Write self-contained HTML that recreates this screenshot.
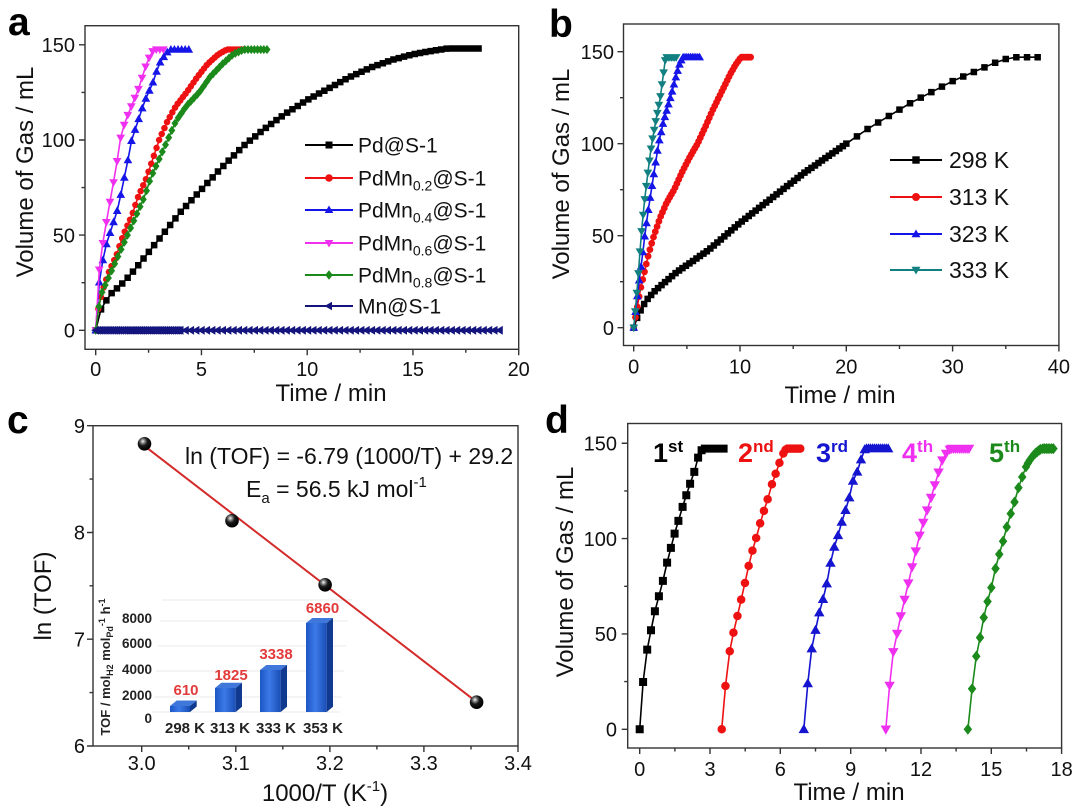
<!DOCTYPE html>
<html><head><meta charset="utf-8">
<style>
html,body{margin:0;padding:0;background:#fff;}
svg{display:block;font-family:"Liberation Sans",Arial,sans-serif;}
</style></head>
<body>
<svg id="s" width="1080" height="808" viewBox="0 0 1080 808" xmlns="http://www.w3.org/2000/svg">
<defs>
<radialGradient id="sph" cx="38%" cy="32%" r="65%">
<stop offset="0" stop-color="#ffffff"/><stop offset="0.18" stop-color="#9a9a9a"/><stop offset="0.5" stop-color="#1a1a1a"/><stop offset="1" stop-color="#000"/>
</radialGradient>
<linearGradient id="barf" x1="0" y1="0" x2="1" y2="0">
<stop offset="0" stop-color="#1d55c4"/><stop offset="0.45" stop-color="#3b7ae8"/><stop offset="1" stop-color="#1a4db5"/>
</linearGradient>
</defs>
<rect width="1080" height="808" fill="#fff"/>

<!-- Panel letters -->
<g font-weight="bold" font-size="39" fill="#000">
<text x="8" y="35">a</text>
<text x="549" y="37">b</text>
<text x="7" y="433">c</text>
<text x="545" y="433">d</text>
</g>

<g stroke="#333" stroke-width="1.4" fill="none">
<!-- frames -->
<rect x="85" y="25.7" width="433.7" height="323.6"/>
<rect x="623.5" y="24" width="435.4" height="321.5"/>
<rect x="93" y="425.7" width="425" height="320.3"/>
<rect x="627.7" y="423.5" width="433.9" height="324.5"/>
<!-- panel a ticks -->
<path d="M95.7,349.3v6M201.45,349.3v6M307.2,349.3v6M412.95,349.3v6M518.7,349.3v6M148.6,349.3v3.5M254.3,349.3v3.5M360.1,349.3v3.5M465.8,349.3v3.5
M85,330.3h-6M85,235.1h-6M85,140h-6M85,44.8h-6M85,282.7h-3.5M85,187.6h-3.5M85,92.4h-3.5"/>
<!-- panel b ticks -->
<path d="M633.7,345.5v6M740,345.5v6M846.3,345.5v6M952.6,345.5v6M1058.9,345.5v6M686.9,345.5v3.5M793.2,345.5v3.5M899.5,345.5v3.5M1005.8,345.5v3.5
M623.5,327.7h-6M623.5,235.7h-6M623.5,143.7h-6M623.5,51.7h-6M623.5,281.7h-3.5M623.5,189.7h-3.5M623.5,97.7h-3.5"/>
<!-- panel c ticks -->
<path d="M141.7,746v6M235.8,746v6M329.9,746v6M423.9,746v6M518,746v6M188.7,746v3.5M282.8,746v3.5M376.9,746v3.5M471,746v3.5
M93,746h-6M93,639.2h-6M93,532.5h-6M93,425.7h-6M93,692.6h-3.5M93,585.8h-3.5M93,479.1h-3.5"/>
<!-- panel d ticks -->
<path d="M639.7,748v6M710,748v6M780.3,748v6M850.7,748v6M921,748v6M991.3,748v6M1061.6,748v6M674.9,748v3.5M745.2,748v3.5M815.5,748v3.5M885.8,748v3.5M956.1,748v3.5M1026.5,748v3.5
M627.7,729.3h-6M627.7,633.95h-6M627.7,538.6h-6M627.7,443.25h-6M627.7,681.6h-3.5M627.7,586.3h-3.5M627.7,490.9h-3.5"/>
</g>

<g font-size="20" fill="#111">
<!-- a tick labels -->
<g text-anchor="middle">
<text x="95.7" y="376">0</text><text x="201.45" y="376">5</text><text x="307.2" y="376">10</text><text x="412.95" y="376">15</text><text x="518.7" y="376">20</text>
</g>
<g text-anchor="end">
<text x="75" y="337.5">0</text><text x="75" y="242.3">50</text><text x="75" y="147.2">100</text><text x="75" y="52">150</text>
</g>
<!-- b tick labels -->
<g text-anchor="middle">
<text x="633.7" y="373.5">0</text><text x="740" y="373.5">10</text><text x="846.3" y="373.5">20</text><text x="952.6" y="373.5">30</text><text x="1058.9" y="373.5">40</text>
</g>
<g text-anchor="end">
<text x="614" y="334.9">0</text><text x="614" y="242.9">50</text><text x="614" y="150.9">100</text><text x="614" y="58.9">150</text>
</g>
<!-- c tick labels -->
<g text-anchor="middle">
<text x="141.7" y="770">3.0</text><text x="235.8" y="770">3.1</text><text x="329.9" y="770">3.2</text><text x="423.9" y="770">3.3</text><text x="518" y="770">3.4</text>
</g>
<g text-anchor="end">
<text x="85" y="753.2">6</text><text x="85" y="646.4">7</text><text x="85" y="539.7">8</text><text x="85" y="432.9">9</text>
</g>
<!-- d tick labels -->
<g text-anchor="middle">
<text x="639.7" y="776">0</text><text x="710" y="776">3</text><text x="780.3" y="776">6</text><text x="850.7" y="776">9</text><text x="921" y="776">12</text><text x="991.3" y="776">15</text><text x="1061.6" y="776">18</text>
</g>
<g text-anchor="end">
<text x="617" y="736.5">0</text><text x="617" y="641.2">50</text><text x="617" y="545.8">100</text><text x="617" y="450.5">150</text>
</g>
</g>

<!-- axis titles -->
<g font-size="24" fill="#111" text-anchor="middle">
<text transform="translate(33,172) rotate(-90)">Volume of Gas / mL</text>
<text x="331" y="401">Time / min</text>
<text transform="translate(569,174) rotate(-90)">Volume of Gas / mL</text>
<text x="840" y="403">Time / min</text>
<text transform="translate(51,596) rotate(-90)">ln (TOF)</text>
<text x="325" y="801">1000/T (K<tspan font-size="15" dy="-10">-1</tspan><tspan dy="10">)</tspan></text>
<text transform="translate(573,572) rotate(-90)">Volume of Gas / mL</text>
<text x="849" y="800">Time / min</text>
</g>

<!-- Legend a -->
<g stroke-width="2" fill="none">
<path d="M305,145h48" stroke="#000"/>
<path d="M305,178h48" stroke="#ee1111"/>
<path d="M305,210h48" stroke="#1515e8"/>
<path d="M305,243h48" stroke="#f030f0"/>
<path d="M305,275h48" stroke="#1b8a1b"/>
<path d="M305,306h48" stroke="#14147e"/>
</g>
<rect x="325.5" y="141.5" width="7" height="7" fill="#000"/>
<circle cx="329" cy="178" r="3.8" fill="#ee1111"/>
<polygon points="329,205.5 333.3,213 324.7,213" fill="#1515e8"/>
<polygon points="329,247.5 333.3,240 324.7,240" fill="#f030f0"/>
<polygon points="329,270.3 332.8,275 329,279.7 325.2,275" fill="#1b8a1b"/>
<polygon points="324.5,306 332,301.8 332,310.2" fill="#14147e"/>
<g font-size="21" fill="#111">
<text x="358" y="152.5">Pd@S-1</text>
<text x="358" y="185.5">PdMn<tspan font-size="14" dy="5">0.2</tspan><tspan dy="-5">@S-1</tspan></text>
<text x="358" y="217.5">PdMn<tspan font-size="14" dy="5">0.4</tspan><tspan dy="-5">@S-1</tspan></text>
<text x="358" y="250.5">PdMn<tspan font-size="14" dy="5">0.6</tspan><tspan dy="-5">@S-1</tspan></text>
<text x="358" y="282.5">PdMn<tspan font-size="14" dy="5">0.8</tspan><tspan dy="-5">@S-1</tspan></text>
<text x="358" y="313.5">Mn@S-1</text>
</g>

<!-- Legend b -->
<g stroke-width="2" fill="none">
<path d="M890,160h52" stroke="#000"/>
<path d="M890,197h52" stroke="#ee1111"/>
<path d="M890,234h52" stroke="#1515e8"/>
<path d="M890,270h52" stroke="#128080"/>
</g>
<rect x="912.3" y="156.3" width="7.4" height="7.4" fill="#000"/>
<circle cx="916" cy="197" r="4" fill="#ee1111"/>
<polygon points="916,229.5 920.5,237.2 911.5,237.2" fill="#1515e8"/>
<polygon points="916,274.5 920.5,266.8 911.5,266.8" fill="#128080"/>
<g font-size="23" fill="#111">
<text x="949" y="168">298 K</text>
<text x="949" y="205">313 K</text>
<text x="949" y="242">323 K</text>
<text x="949" y="278">333 K</text>
</g>

<!-- Panel c -->
<g font-size="23" fill="#111">
<text x="185" y="464">ln (TOF) = -6.79 (1000/T) + 29.2</text>
<text x="246" y="497">E<tspan font-size="15" dy="6">a</tspan><tspan dy="-6"> = 56.5 kJ mol</tspan><tspan font-size="15" dy="-10">-1</tspan></text>
</g>
<!-- inset -->
<g stroke="#e8e8e8" stroke-width="1" fill="none">
<path d="M162,600H352M160,621H348M158,646H346M156,671H344M154,697H342M152,712H340"/>
</g>
<g>
<rect x="170" y="706" width="20" height="6" fill="url(#barf)"/>
<polygon points="170,706 190,706 196.7,700.5 176.7,700.5" fill="#3f78da"/>
<polygon points="190,706 196.7,700.5 196.7,706.5 190,712" fill="#0f3a8f"/>
<rect x="215" y="688" width="20.7" height="24" fill="url(#barf)"/>
<polygon points="215,688 235.7,688 242,682.7 221.3,682.7" fill="#3f78da"/>
<polygon points="235.7,688 242,682.7 242,706.7 235.7,712" fill="#0f3a8f"/>
<rect x="260" y="670" width="20.7" height="42" fill="url(#barf)"/>
<polygon points="260,670 280.7,670 287,665 266.3,665" fill="#3f78da"/>
<polygon points="280.7,670 287,665 287,706.7 280.7,712" fill="#0f3a8f"/>
<rect x="306" y="623" width="20.7" height="89" fill="url(#barf)"/>
<polygon points="306,623 326.7,623 333,618 312.3,618" fill="#3f78da"/>
<polygon points="326.7,623 333,618 333,706.7 326.7,712" fill="#0f3a8f"/>
</g>
<g font-weight="bold" font-size="13.5" fill="#222" text-anchor="end">
<text x="152" y="623">8000</text><text x="152" y="648">6000</text><text x="152" y="674">4000</text><text x="152" y="700">2000</text><text x="152" y="723">0</text>
</g>
<g font-weight="bold" font-size="15" fill="#e23a3a" text-anchor="middle">
<text x="186" y="695">610</text><text x="231" y="680">1825</text><text x="276" y="659">3338</text><text x="322.5" y="613">6860</text>
</g>
<g font-weight="bold" font-size="15" fill="#222" text-anchor="middle">
<text x="185" y="733">298 K</text><text x="230" y="733">313 K</text><text x="276" y="733">333 K</text><text x="323" y="733">353 K</text>
</g>
<text transform="translate(110,667) rotate(-90)" text-anchor="middle" font-weight="bold" font-size="13" fill="#222">TOF / mol<tspan font-size="9" dy="3">H2</tspan><tspan dy="-3"> mol</tspan><tspan font-size="9" dy="3">Pd</tspan><tspan font-size="9" dy="-8">-1</tspan><tspan dy="5"> h</tspan><tspan font-size="9" dy="-5">-1</tspan></text>
<!-- fit line and spheres -->
<line x1="141.7" y1="443.8" x2="476.6" y2="701.9" stroke="#d42a2a" stroke-width="2"/>
<circle cx="144.5" cy="443.8" r="6.8" fill="url(#sph)"/>
<circle cx="232" cy="520.7" r="6.8" fill="url(#sph)"/>
<circle cx="325.1" cy="584.8" r="6.8" fill="url(#sph)"/>
<circle cx="476.6" cy="702.2" r="6.8" fill="url(#sph)"/>

<!-- Panel d labels -->
<g font-weight="bold" font-size="27">
<text x="653" y="462" fill="#000">1<tspan font-size="17" dy="-10">st</tspan></text>
<text x="738" y="462" fill="#ee1111">2<tspan font-size="17" dy="-10">nd</tspan></text>
<text x="816" y="462" fill="#1515d0">3<tspan font-size="17" dy="-10">rd</tspan></text>
<text x="902" y="462" fill="#f030f0">4<tspan font-size="17" dy="-10">th</tspan></text>
<text x="989" y="462" fill="#1b8a1b">5<tspan font-size="17" dy="-10">th</tspan></text>
</g>

<g id="data"></g>
</svg>
<script>
(function(){
var NS="http://www.w3.org/2000/svg";
var layer=document.getElementById('data');
function add(tag,a){var e=document.createElementNS(NS,tag);for(var k in a)e.setAttribute(k,a[k]);layer.appendChild(e);return e;}
function lin(p,x){for(var i=0;i<p.length-1;i++){if(x<=p[i+1][0]+1e-9){var t=(x-p[i][0])/(p[i+1][0]-p[i][0]);return p[i][1]+t*(p[i+1][1]-p[i][1]);}}return p[p.length-1][1];}
function sample(p,step,a,b){var o=[];var x0=(a===undefined)?p[0][0]:a,x1=(b===undefined)?p[p.length-1][0]:b;var n=Math.max(1,Math.round((x1-x0)/step));for(var i=0;i<=n;i++){var x=x0+(x1-x0)*i/n;o.push([x,lin(p,x)]);}return o;}
function f(v){return v.toFixed(1);}
function mk(t,x,y,s){var h=s/2;
 if(t=='s')return 'M'+f(x-h)+','+f(y-h)+'h'+s+'v'+s+'h'+(-s)+'z';
 if(t=='o')return 'M'+f(x-h)+','+f(y)+'a'+h+','+h+' 0 1,0 '+s+',0a'+h+','+h+' 0 1,0 '+(-s)+',0z';
 if(t=='^')return 'M'+f(x)+','+f(y-s*0.6)+'L'+f(x+s*0.58)+','+f(y+s*0.42)+'L'+f(x-s*0.58)+','+f(y+s*0.42)+'z';
 if(t=='v')return 'M'+f(x)+','+f(y+s*0.6)+'L'+f(x+s*0.58)+','+f(y-s*0.42)+'L'+f(x-s*0.58)+','+f(y-s*0.42)+'z';
 if(t=='<')return 'M'+f(x-s*0.6)+','+f(y)+'L'+f(x+s*0.42)+','+f(y-s*0.58)+'L'+f(x+s*0.42)+','+f(y+s*0.58)+'z';
 if(t=='d')return 'M'+f(x)+','+f(y-s*0.65)+'L'+f(x+s*0.5)+','+f(y)+'L'+f(x)+','+f(y+s*0.65)+'L'+f(x-s*0.5)+','+f(y)+'z';
}
function series(pts,X,Y,col,t,s,lw){
 var d='',m='';
 for(var i=0;i<pts.length;i++){var px=X(pts[i][0]),py=Y(pts[i][1]);d+=(i?'L':'M')+f(px)+','+f(py);m+=mk(t,px,py,s);}
 add('path',{d:d,fill:'none',stroke:col,'stroke-width':lw,'stroke-linejoin':'round'});
 add('path',{d:m,fill:col,stroke:'none'});
}
/* Panel a */
var XA=function(x){return 95.7+21.15*x;}, YA=function(y){return 330.3-1.9035*y;};
var aBlack=[[0,0],[0.1,5],[0.2,10],[0.4,14],[0.7,19],[1,22],[1.3,25],[1.7,30],[2,34],[2.5,41],[3,48],[3.5,55],[4,62],[4.5,68],[5,74],[6,86],[7,97],[8,106],[9,114],[10,121],[11,127],[12,133],[13,138],[14,142],[15,145],[16,147],[16.6,148],[18.1,148]];
var aRed=[[0,0],[0.1,10],[0.3,20],[0.6,30],[1,40],[1.3,50],[1.7,60],[2,70],[2.4,80],[2.7,90],[3,100],[3.4,110],[3.8,118],[4.3,125],[4.8,133],[5.3,140],[5.8,145],[6.2,147.5],[7,147.5]];
var aBlue=[[0,0],[0.1,20],[0.3,35],[0.5,45],[0.7,52],[1,62],[1.2,72],[1.5,88],[1.7,100],[2.0,110],[2.3,120],[2.7,130],[3.0,140],[3.3,145],[3.5,147.5],[4.4,147.5]];
var aMag=[[0,0],[0.1,25],[0.25,40],[0.4,50],[0.6,63],[0.8,75],[1.0,88],[1.15,100],[1.4,110],[1.7,118],[2.0,126],[2.2,133],[2.4,140],[2.6,145],[2.75,147.5],[3.2,147.5]];
var aGreen=[[0,0],[0.1,10],[0.3,20],[0.7,30],[1.1,40],[1.5,50],[1.9,60],[2.3,70],[2.6,80],[3,90],[3.4,100],[3.8,110],[4.3,118],[4.9,125],[5.4,133],[6,140],[6.5,145],[7,147.5],[8.1,147.5]];
series(sample(aBlack,0.25),XA,YA,'#000','s',6.5,1.6);
series(sample(aRed,0.125),XA,YA,'#ee1111','o',6.5,1.6);
series(sample(aBlue,0.17),XA,YA,'#1515e8','^',7.5,1.6);
series(sample(aMag,0.17),XA,YA,'#f030f0','v',7.5,1.6);
series(sample(aGreen,0.15),XA,YA,'#1b8a1b','d',7,1.6);
var nv=sample([[0,0],[4,0]],0.09).concat(sample([[4,0],[19.1,0]],0.25).slice(1));
series(nv,XA,YA,'#14147e','<',7.5,1.6);
/* Panel b */
var XB=function(x){return 633.7+10.63*x;}, YB=function(y){return 327.7-1.84*y;};
var bBlack=[[0,0],[0.3,5],[0.7,10],[1.2,15],[2,20],[3,25],[4,30],[5,34],[6,38],[7,42],[8,47],[9,52],[10,57],[12,66],[14,75],[16,84],[18,92],[20,100],[22,108],[24,115],[26,122],[28,128],[30,134],[32,139],[34,144],[35,146],[36,147],[38,147]];
var bb=sample(bBlack,0.33,0,20).concat(sample(bBlack,1,20,38).slice(1));
var bRed=[[0,0],[0.3,10],[0.6,20],[1,30],[1.4,40],[1.9,50],[2.5,60],[3.1,68],[3.8,75],[4.5,84],[5.2,92],[6.0,100],[6.8,110],[7.4,118],[8.0,125],[8.6,132],[9.1,138],[9.6,143],[10.1,147],[11,147]];
var bBlue=[[0,0],[0.2,10],[0.5,25],[0.8,38],[1.04,50],[1.4,65],[1.8,80],[2.34,100],[2.8,112],[3.2,120],[3.6,128],[4.0,137],[4.3,143],[4.6,147],[6.2,147]];
var bTeal=[[0,0],[0.2,12],[0.45,30],[0.7,50],[1.0,68],[1.35,85],[1.69,100],[2.1,113],[2.5,125],[2.8,138],[3.0,147],[4.0,147]];
series(bb,XB,YB,'#000','s',6.5,1.6);
series(sample(bRed,0.17),XB,YB,'#ee1111','o',6.8,1.6);
series(sample(bBlue,0.17),XB,YB,'#1515e8','^',7.5,1.6);
series(sample(bTeal,0.15),XB,YB,'#128080','v',7.5,1.6);
/* Panel d */
var XD=function(x){return 639.7+23.44*x;}, YD=function(y){return 729.3-1.907*y;};
function plat(arr,x0,x1,y,st){var n=Math.round((x1-x0)/st);for(var i=1;i<=n;i++)arr.push([x0+(x1-x0)*i/n,y]);return arr;}
var d1=plat([[0,0],[0.146,24.8],[0.32,41.8],[0.48,51.9],[0.65,61.9],[0.82,69.8],[0.99,77.8],[1.17,87.4],[1.33,95.1],[1.49,102.6],[1.65,109.3],[1.83,116.6],[1.99,122.7],[2.15,128.8],[2.33,135],[2.49,142.5],[2.64,146.3],[2.78,147.2]],2.78,3.58,147.2,0.1);
var d2=plat([[3.5,0],[3.66,22.7],[3.84,40.9],[4.0,50.7],[4.17,59.4],[4.33,68],[4.49,76.7],[4.65,85.7],[4.81,93.7],[4.97,100.3],[5.14,108],[5.3,114.5],[5.46,120.6],[5.64,128.5],[5.8,134],[5.96,139.7],[6.13,144.6],[6.22,146.5],[6.3,147.2]],6.3,6.85,147.2,0.07);
var d3=plat([[7,0],[7.17,24],[7.34,42.3],[7.5,52],[7.66,61.2],[7.82,68.2],[7.98,76.4],[8.14,87.2],[8.3,95.6],[8.46,101.7],[8.62,108.7],[8.78,114.9],[8.94,121.5],[9.1,130.2],[9.28,135],[9.44,141.4],[9.6,146.7],[9.68,147.2]],9.68,10.6,147.2,0.08);
var d4=plat([[10.5,0],[10.66,23],[10.82,40.6],[10.98,50.2],[11.14,59.4],[11.3,68],[11.46,76.6],[11.62,85.1],[11.78,93.4],[11.94,101.7],[12.1,108.4],[12.26,114.9],[12.43,121.5],[12.59,128.1],[12.75,134.8],[12.91,141.1],[13.07,144.6],[13.23,146.7],[13.3,147.2]],13.3,14.05,147.2,0.08);
var d5=plat([[14,0],[14.18,21.3],[14.36,38.3],[14.52,48.1],[14.68,58.6],[14.84,67],[15,74.3],[15.18,84.3],[15.34,91.8],[15.5,98.6],[15.66,106.1],[15.83,113.1],[15.99,119.2],[16.16,126.7],[16.32,132.3],[16.48,137.6],[16.56,139.5],[16.64,141.1],[16.72,142.5],[16.8,143.7],[16.88,144.7],[16.96,145.5],[17.04,146.3],[17.1,146.8],[17.2,147.2]],17.2,17.65,147.2,0.08);
series(d1,XD,YD,'#000','s',8,1.6);
series(d2,XD,YD,'#ee1111','o',8.5,1.6);
series(d3,XD,YD,'#1515d0','^',9,1.6);
series(d4,XD,YD,'#f030f0','v',9,1.6);
series(d5,XD,YD,'#1b8a1b','d',8.5,1.6);
})();
</script>
</body></html>
